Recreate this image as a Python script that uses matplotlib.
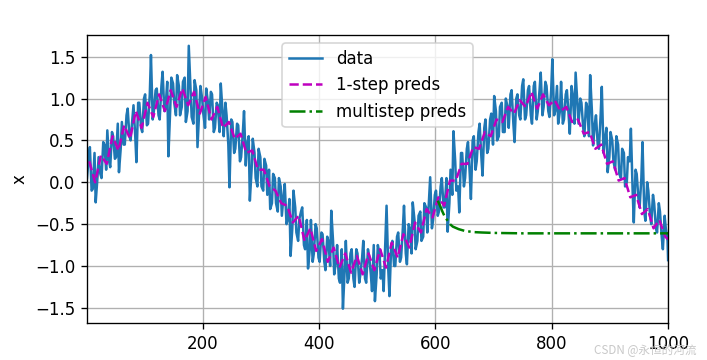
import numpy as np
import matplotlib
matplotlib.use("Agg")
import matplotlib.pyplot as plt

# observed sequence, read at t = 1, 6, 11, ... and t = 1000
time_a = np.append(np.arange(1, 1000, 5), 1000)
x_a = [
    0.05, 0.42, -0.08, -0.24, 0.30, 0.05, 0.45, 0.62, 0.18, 0.55,
    0.30, 0.12, 0.72, 0.45, 0.88, 0.50, 0.92, 0.24, 0.95, 0.60,
    1.05, 0.70, 1.52, 0.85, 1.12, 0.75, 1.32, 0.88, 0.31, 1.25,
    0.95, 1.28, 0.80, 1.20, 0.72, 1.63, 0.78, 1.22, 0.42, 1.15,
    0.82, 1.12, 0.75, 1.05, 0.65, 0.92, 1.18, 0.55, 0.80, -0.06,
    0.72, 0.40, 0.68, 0.30, 0.85, 0.45, -0.22, 0.52, 0.05, 0.40,
    -0.05, 0.28, -0.15, -0.32, 0.10, -0.25, 0.05, -0.40, -0.02, -0.45,
    -0.88, -0.10, -0.60, -0.44, -0.30, -0.80, -1.03, -0.45, -0.85, -0.55,
    -0.95, -0.62, -1.05, -0.70, -0.34, -1.10, -0.75, -1.20, -1.51, -0.70,
    -1.15, -0.80, -1.25, -0.85, -1.10, -0.70, -1.20, -0.88, -1.30, -1.42,
    -0.75, -1.15, -1.30, -0.28, -1.36, -0.70, -1.00, -0.60, -0.90, -0.28,
    -0.98, -0.55, -0.24, -0.80, -0.40, -0.70, -0.25, -0.60, 0.06, -0.45,
    -0.10, -0.35, 0.05, -0.30, -0.59, 0.15, 0.61, -0.10, -0.36, 0.35,
    0.05, 0.48, -0.20, 0.55, 0.25, 0.70, 0.08, 0.75, 0.40, 0.82,
    1.03, 0.50, 0.90, 0.60, 1.00, 0.65, 1.10, 0.48, 1.05, 0.75,
    1.23, 0.80, 1.15, 0.70, 1.20, 0.85, 1.31, 0.90, 1.15, 0.78,
    1.47, 0.85, 0.70, 1.20, 0.75, 1.10, 0.58, 1.05, 1.31, 0.70,
    0.95, 0.55, 0.90, 1.28, 0.44, 0.80, 0.40, 1.14, 0.50, 0.12,
    0.60, 0.25, 0.55, 0.10, 0.40, -0.05, 0.30, 0.64, -0.48, 0.10,
    -0.30, 0.48, -0.46, -0.10, -0.50, -0.25, -0.60, -0.35, -0.80, -0.55,
    -0.93,
]

# observed sequence, read at t = 4, 9, 14, ...
time_b = np.arange(4, 1000, 5)
x_b = [
    0.30, -0.10, 0.35, 0.05, 0.10, 0.48, 0.15, 0.25, 0.60, 0.28,
    0.70, 0.40, 0.45, 0.80, 0.55, 0.75, 0.55, 0.95, 0.65, 1.00,
    0.68, 1.05, 0.75, 1.10, 0.80, 1.15, 0.85, 1.20, 0.85, 1.18,
    0.80, 1.15, 0.90, 1.25, 0.85, 1.10, 0.70, 1.10, 0.85, 1.00,
    0.65, 0.95, 1.08, 0.60, 0.95, 0.60, 0.85, 0.95, 0.45, 0.75,
    0.35, 0.70, 0.25, 0.60, 0.20, 0.55, 0.15, 0.35, -0.05, 0.30,
    -0.10, 0.20, 0.15, -0.25, 0.05, -0.35, -0.05, -0.15, -0.50, -0.20,
    -0.55, -0.30, -0.70, -0.35, -0.75, -0.45, -0.80, -0.95, -0.50, -0.90,
    -0.60, -0.95, -0.65, -1.00, -0.70, -0.95, -1.15, -0.80, -1.05, -1.20,
    -0.85, -1.15, -0.80, -1.20, -0.90, -1.15, -0.80, -1.10, -0.75, -1.10,
    -0.85, -1.05, -0.70, -1.05, -0.75, -1.00, -0.65, -0.95, -0.55, -0.85,
    -0.50, -0.85, -0.45, -0.70, -0.35, -0.65, -0.30, -0.20, -0.55, -0.15,
    -0.40, -0.05, -0.30, 0.05, -0.25, -0.15, 0.25, -0.05, 0.35, -0.05,
    0.40, 0.10, 0.50, 0.15, 0.60, 0.30, 0.65, 0.35, 0.75, 0.45,
    0.85, 0.55, 0.95, 0.60, 0.90, 1.05, 0.70, 1.00, 0.80, 1.15,
    0.75, 1.10, 0.80, 1.15, 0.75, 1.10, 0.80, 1.20, 0.85, 1.10,
    0.80, 1.15, 0.85, 0.70, 1.05, 0.80, 1.15, 0.70, 0.95, 1.00,
    0.65, 0.95, 0.55, 0.85, 0.70, 0.45, 0.80, 0.35, 0.65, 0.30,
    0.50, 0.15, 0.45, 0.05, 0.35, 0.00, 0.25, -0.10, 0.15, -0.20,
    0.05, -0.35, 0.00, -0.40, -0.15, -0.55, -0.25, -0.65, -0.40, -0.70,
]

# 1-step predictions, read every 10 steps
time_onestep = np.append(np.arange(5, 1000, 10), 1000)
onestep = [
    0.25, 0.00, 0.32, 0.22, 0.55, 0.38, 0.68, 0.52, 0.85, 0.65,
    0.95, 0.78, 1.05, 0.85, 1.10, 0.90, 1.12, 0.92, 1.08, 0.82,
    1.02, 0.75, 0.90, 0.65, 0.72, 0.52, 0.58, 0.35, 0.38, 0.15,
    0.15, -0.05, -0.10, -0.25, -0.28, -0.48, -0.40, -0.70, -0.55, -0.82,
    -0.68, -0.95, -0.78, -1.02, -0.85, -1.08, -0.88, -1.10, -0.85, -1.05,
    -0.80, -1.02, -0.72, -0.90, -0.62, -0.78, -0.48, -0.60, -0.32, -0.42,
    -0.18, -0.28, 0.02, 0.02, 0.22, 0.22, 0.42, 0.40, 0.60, 0.55,
    0.75, 0.72, 0.90, 0.82, 0.98, 0.90, 1.08, 0.88, 1.05, 0.92,
    0.98, 0.85, 0.90, 0.72, 0.75, 0.58, 0.60, 0.40, 0.45, 0.22,
    0.25, 0.02, 0.05, -0.18, -0.15, -0.38, -0.32, -0.55, -0.45, -0.65,
    -0.68,
]

# multistep predictions from t=604
time_multi = [604, 608, 612, 616, 620, 625, 630, 640, 650, 665, 680, 700, 750, 800, 900, 1000]
multistep = [-0.22, -0.28, -0.35, -0.41, -0.45, -0.50, -0.53, -0.56, -0.58, -0.595,
             -0.60, -0.605, -0.61, -0.61, -0.61, -0.61]

time = np.concatenate([time_a, time_b])
x = np.concatenate([x_a, x_b])
order = np.argsort(time)

fig = plt.figure(figsize=(707 / 120, 3.0), dpi=120)
ax = fig.add_axes([0.123, 0.103, 0.822, 0.8])
ax.plot(time[order], x[order], color='#1f77b4', lw=1.5, label='data')
ax.plot(time_onestep, onestep, 'm--', lw=1.5, label='1-step preds')
ax.plot(time_multi, multistep, 'g-.', lw=1.5, label='multistep preds')
ax.set_xlim(1, 1000)
ax.set_ylim(-1.68, 1.76)
ax.set_xticks([200, 400, 600, 800, 1000])
ax.set_yticks([-1.5, -1.0, -0.5, 0.0, 0.5, 1.0, 1.5])
ax.set_ylabel('x')
ax.grid(True)
ax.legend(loc='upper center')

fig.text(0.985, 0.01, 'CSDN @永恒的河流', ha='right', va='bottom', fontsize=7,
         color='#c8c8c8', family=['Noto Sans CJK SC', 'DejaVu Sans'])

fig.savefig('out.png', dpi=120)
